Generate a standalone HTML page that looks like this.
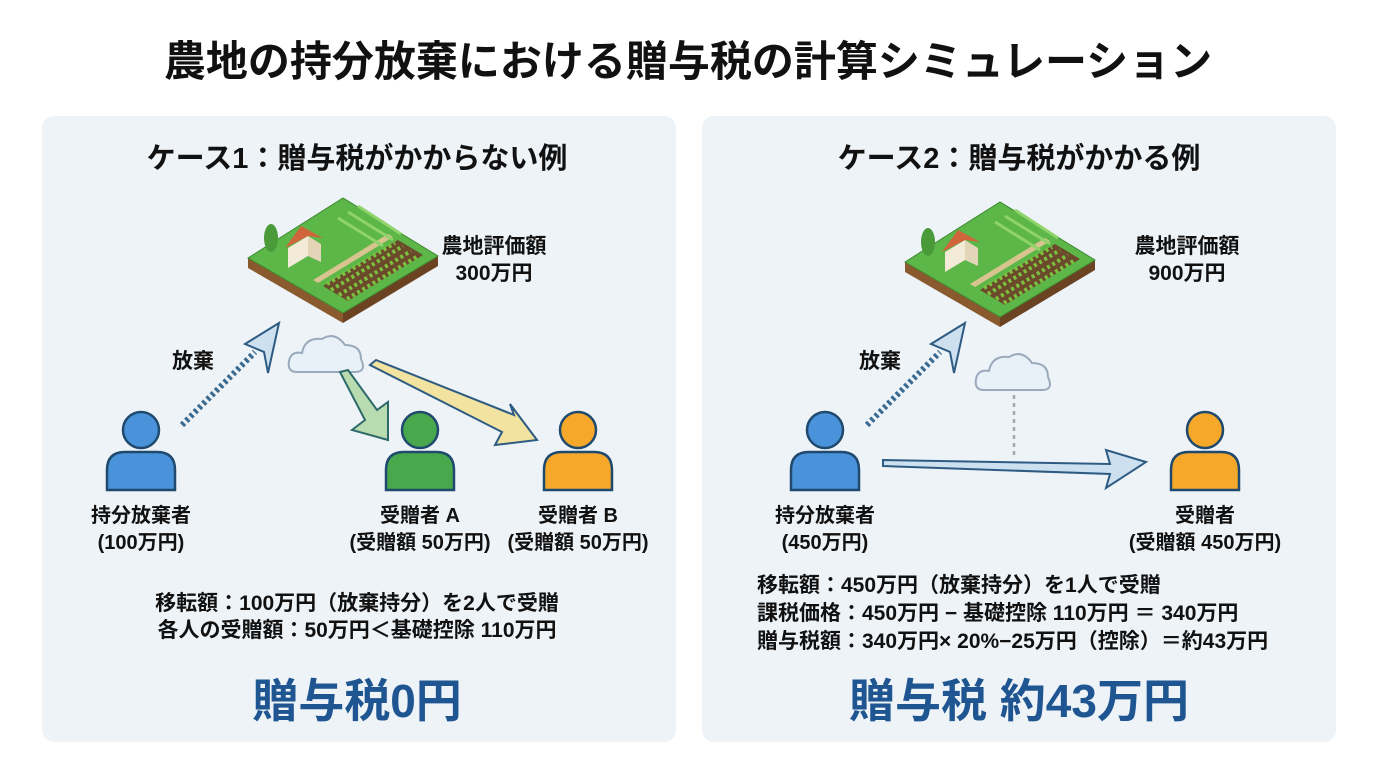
<!DOCTYPE html>
<html><head><meta charset="utf-8"><style>
html,body{margin:0;padding:0;background:#fff;}
svg{display:block;}
text{font-family:"Liberation Sans","Noto Sans CJK JP",sans-serif;font-weight:bold;fill:#111;}
</style></head><body>
<svg width="1376" height="768" viewBox="0 0 1376 768" xmlns="http://www.w3.org/2000/svg">
<defs>
<g id="farm">
  <polygon points="-95,0 0,55 0,65 -95,10" fill="#8a5a2e"/>
  <polygon points="0,55 95,-2 95,8 0,65" fill="#6b4322"/>
  <polygon points="-95,0 0,-60 95,-2 0,55" fill="#5cb648" stroke="#3e8a30" stroke-width="1"/>
  <polygon points="-20,28 55,-18 80,-3 5,43" fill="#6b4a2c"/>
  <g stroke="#7cc23f" stroke-width="4" stroke-dasharray="3 3">
    <line x1="-12" y1="32" x2="60" y2="-12"/><line x1="-4" y1="37" x2="68" y2="-7"/>
    <line x1="4" y1="41" x2="75" y2="-2"/><line x1="-16" y1="26" x2="52" y2="-15"/>
  </g>
  <polygon points="-30,22 45,-24 50,-21 -25,25" fill="#d8c48e"/>
  <g stroke="#8fd36a" stroke-width="3">
    <line x1="-5" y1="-40" x2="40" y2="-12"/><line x1="5" y1="-46" x2="50" y2="-18"/><line x1="15" y1="-52" x2="58" y2="-24"/>
  </g>
  <polygon points="-55,-10 -35,-22 -35,-2 -55,10" fill="#f3ead8"/>
  <polygon points="-35,-22 -22,-14 -22,4 -35,-2" fill="#e2d5b8"/>
  <polygon points="-58,-10 -42,-32 -20,-20 -35,-22" fill="#d0643a"/>
  <ellipse cx="-72" cy="-20" rx="7" ry="14" fill="#4a9a3a"/>
</g>
<g id="cloud">
  <path d="M-30,15 Q-40,15 -38,4 Q-36,-6 -25,-4 Q-22,-20 -5,-18 Q8,-26 18,-12 Q34,-12 34,2 Q40,15 28,15 Z" fill="#e8f0f8" stroke="#9aaabb" stroke-width="2"/>
</g>
</defs>

<text x="688" y="76" font-size="42" text-anchor="middle">農地の持分放棄における贈与税の計算シミュレーション</text>

<rect x="42" y="116" width="634" height="626" rx="12" fill="#eef3f8"/>
<rect x="702" y="116" width="634" height="626" rx="12" fill="#eef3f8"/>

<!-- LEFT -->
<text x="357" y="168" font-size="29" text-anchor="middle">ケース1：贈与税がかからない例</text>
<use href="#farm" transform="translate(343,258)"/>
<text x="494" y="253" font-size="21" text-anchor="middle">農地評価額</text>
<text x="494" y="280" font-size="21" text-anchor="middle">300万円</text>
<text x="193" y="368" font-size="21" text-anchor="middle">放棄</text>
<line x1="182" y1="425" x2="255" y2="352" stroke="#3a6a90" stroke-width="6" stroke-dasharray="3 3"/>
<polygon points="279,323 245,344 264,352 268,373" fill="#cde0f0" stroke="#2e5b82" stroke-width="2"/>
<use href="#cloud" transform="translate(327,357)"/>
<polygon points="340,372 348,370 377,410 388,402 388,440 352,430 365,420" fill="#b8dbb0" stroke="#2e6a6a" stroke-width="2"/>
<polygon points="370,365 376,360 514,415 510,404 537,440 495,445 502,432" fill="#f2e3a0" stroke="#2e5b82" stroke-width="2"/>
<g stroke="#1f4a6e" stroke-width="2.5">
  <circle cx="141" cy="430" r="18" fill="#4a93db"/>
  <path d="M107,490 L107,470 Q107,452 125,452 L157,452 Q175,452 175,470 L175,490 Z" fill="#4a93db"/>
  <circle cx="420" cy="430" r="18" fill="#4aa84c"/>
  <path d="M386,490 L386,470 Q386,452 404,452 L436,452 Q454,452 454,470 L454,490 Z" fill="#4aa84c"/>
  <circle cx="578" cy="430" r="18" fill="#f5a82a"/>
  <path d="M544,490 L544,470 Q544,452 562,452 L594,452 Q612,452 612,470 L612,490 Z" fill="#f5a82a"/>
</g>
<text x="141" y="522" font-size="20" text-anchor="middle">持分放棄者</text>
<text x="141" y="549" font-size="20" text-anchor="middle">(100万円)</text>
<text x="420" y="522" font-size="20" text-anchor="middle">受贈者 A</text>
<text x="420" y="549" font-size="20" text-anchor="middle">(受贈額 50万円)</text>
<text x="578" y="522" font-size="20" text-anchor="middle">受贈者 B</text>
<text x="578" y="549" font-size="20" text-anchor="middle">(受贈額 50万円)</text>
<text x="357" y="610" font-size="21" text-anchor="middle">移転額：100万円（放棄持分）を2人で受贈</text>
<text x="357" y="637" font-size="21" text-anchor="middle">各人の受贈額：50万円＜基礎控除 110万円</text>
<text x="357" y="717" font-size="46" text-anchor="middle" style="fill:#1f5591">贈与税0円</text>

<!-- RIGHT -->
<text x="1019" y="168" font-size="29" text-anchor="middle">ケース2：贈与税がかかる例</text>
<use href="#farm" transform="translate(1000,262)"/>
<text x="1187" y="253" font-size="21" text-anchor="middle">農地評価額</text>
<text x="1187" y="280" font-size="21" text-anchor="middle">900万円</text>
<text x="880" y="368" font-size="21" text-anchor="middle">放棄</text>
<line x1="867" y1="425" x2="940" y2="352" stroke="#3a6a90" stroke-width="6" stroke-dasharray="3 3"/>
<polygon points="965,323 931,344 950,352 954,373" fill="#cde0f0" stroke="#2e5b82" stroke-width="2"/>
<use href="#cloud" transform="translate(1014,375)"/>
<line x1="1014" y1="395" x2="1014" y2="456" stroke="#aaa" stroke-width="2.5" stroke-dasharray="4 4"/>
<polygon points="883,460 1110,464 1106,450 1146,462 1106,488 1110,474 883,466" fill="#cde0f0" stroke="#2e5b82" stroke-width="2"/>
<g stroke="#1f4a6e" stroke-width="2.5">
  <circle cx="825" cy="430" r="18" fill="#4a93db"/>
  <path d="M791,490 L791,470 Q791,452 809,452 L841,452 Q859,452 859,470 L859,490 Z" fill="#4a93db"/>
  <circle cx="1205" cy="430" r="18" fill="#f5a82a"/>
  <path d="M1171,490 L1171,470 Q1171,452 1189,452 L1221,452 Q1239,452 1239,470 L1239,490 Z" fill="#f5a82a"/>
</g>
<text x="825" y="522" font-size="20" text-anchor="middle">持分放棄者</text>
<text x="825" y="549" font-size="20" text-anchor="middle">(450万円)</text>
<text x="1205" y="522" font-size="20" text-anchor="middle">受贈者</text>
<text x="1205" y="549" font-size="20" text-anchor="middle">(受贈額 450万円)</text>
<text x="757" y="592" font-size="21">移転額：450万円（放棄持分）を1人で受贈</text>
<text x="757" y="620" font-size="21">課税価格：450万円 − 基礎控除 110万円 ＝ 340万円</text>
<text x="757" y="648" font-size="21">贈与税額：340万円× 20%−25万円（控除）＝約43万円</text>
<text x="1019" y="717" font-size="46" text-anchor="middle" style="fill:#1f5591">贈与税 約43万円</text>
</svg>
</body></html>
